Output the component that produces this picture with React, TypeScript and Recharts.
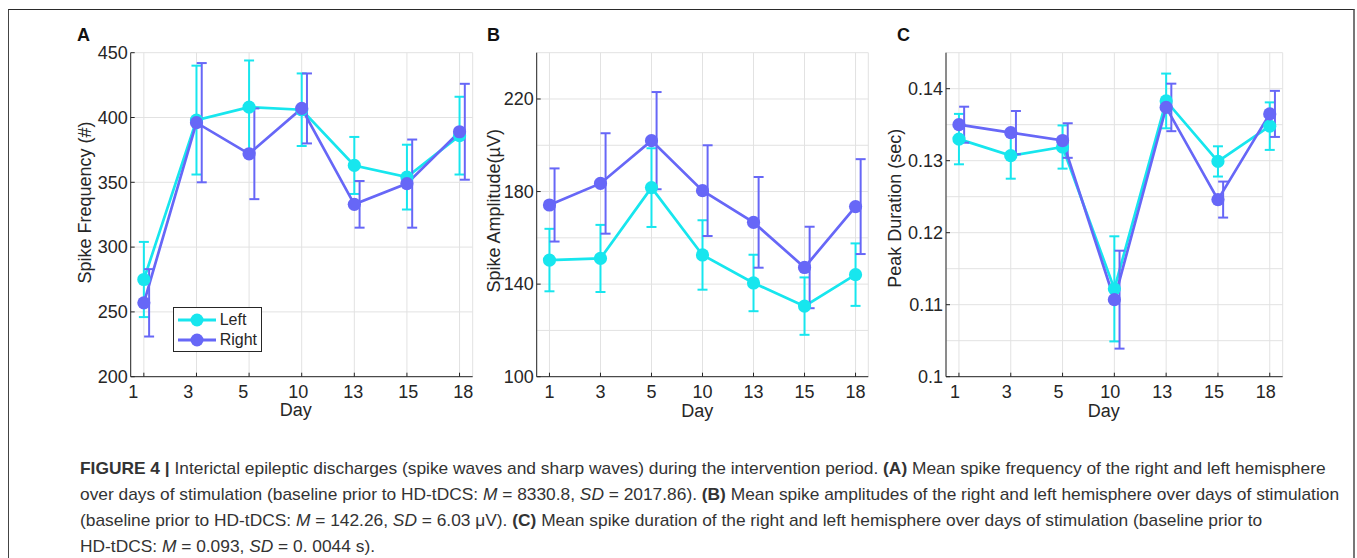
import {
  ComposedChart,
  Line,
  Scatter,
  XAxis,
  YAxis,
  CartesianGrid,
  ErrorBar,
  Legend,
  Label,
} from "recharts";

// days of stimulation (x categories)
const days = ["1", "3", "5", "10", "13", "15", "18"];
const dayPos = [1, 2, 3, 4, 5, 6, 7];

// A: spike frequency (#)
const freqLeft = [275, 398, 408, 406, 363, 354, 386];
const freqLeftErr = [29, 42, 36, 28, 22, 25, 30];
const freqRight = [257, 396, 372, 407, 333, 349, 389];
const freqRightErr = [26, 46, 35, 27, 18, 34, 37];
const freqTicks = [200, 250, 300, 350, 400, 450];
const freqTickLabels = [200, 250, 300, 350, 400, 450];

// B: spike amplitude (uV)
const ampLeft = [150.4, 151.1, 181.7, 152.6, 140.5, 130.5, 144.1];
const ampLeftErr = [13.5, 14.5, 17, 15, 12.2, 12.4, 13.5];
const ampRight = [174.2, 183.5, 202, 180.4, 166.7, 147.2, 173.5];
const ampRightErr = [15.8, 21.7, 21, 19.6, 19.6, 17.6, 20.5];
const ampTicks = [100, 120, 140, 160, 180, 200, 220, 240];
const ampTickLabels = [100, 140, 180, 220];

// C: peak duration (sec)
const durLeft = [0.133, 0.1307, 0.1319, 0.1122, 0.1383, 0.1299, 0.1348];
const durLeftErr = [0.0035, 0.0032, 0.003, 0.0073, 0.0038, 0.0021, 0.0033];
const durRight = [0.135, 0.1339, 0.1328, 0.1107, 0.1374, 0.1246, 0.1365];
const durRightErr = [0.0025, 0.003, 0.0024, 0.0068, 0.0033, 0.0025, 0.0032];
const durTicks = [0.1, 0.105, 0.11, 0.115, 0.12, 0.125, 0.13, 0.135, 0.14, 0.145];
const durTickLabels = [0.1, 0.11, 0.12, 0.13, 0.14];

const CYAN = "#17e6ee";
const PURPLE = "#6767f7";
const AXIS = "#262626";
const GRID = "#e2e2e2";
const FONT = '"Liberation Sans", Arial, Helvetica, sans-serif';
const BAR_SHIFT = 0.1; // right-hemisphere error bars are drawn slightly to the right

function rows(l: number[], le: number[], r: number[], re: number[]) {
  return dayPos.map((x, i) => ({ x, left: l[i], leftErr: le[i], right: r[i], rightErr: re[i] }));
}
function shiftedRows(r: number[], re: number[]) {
  return dayPos.map((x, i) => ({ x: x + BAR_SHIFT, right: r[i], rightErr: re[i] }));
}

function DayTick(props: any) {
  const { x, y, payload, shift } = props;
  const i = Math.round(payload.value) - 1;
  return (
    <g>
      <line x1={x} y1={y} x2={x} y2={y - 4} stroke={AXIS} />
      <text x={x + shift(i)} y={y + 21} textAnchor="middle" fontSize={18} fill={AXIS} fontFamily={FONT}>
        {days[i]}
      </text>
    </g>
  );
}

function ValueTick(props: any) {
  const { x, y, payload, labels } = props;
  const v = payload.value;
  if (!labels.some((l: number) => Math.abs(l - v) < 1e-9)) return <g />;
  return (
    <g>
      <line x1={x + 3} y1={y} x2={x + 7} y2={y} stroke={AXIS} />
      <text x={x} y={y} dy="0.35em" textAnchor="end" fontSize={18} fill={AXIS} fontFamily={FONT}>
        {String(v)}
      </text>
    </g>
  );
}

function LegendBox({ payload }: any) {
  const items = (payload || []).filter((p: any) => p.type !== "none");
  return (
    <div
      style={{
        border: `1.5px solid ${AXIS}`,
        background: "#fff",
        padding: "1.5px 4px 1px 3px",
        fontFamily: FONT,
        fontSize: 16,
        color: AXIS,
        lineHeight: "20px",
      }}
    >
      {items.map((item: any) => (
        <div key={item.value} style={{ display: "flex", alignItems: "center", height: 20 }}>
          <svg width={40} height={16}>
            <line x1={1} y1={8} x2={39} y2={8} stroke={item.color} strokeWidth={3} />
            <circle cx={20} cy={8} r={6.5} fill={item.color} />
          </svg>
          <span style={{ marginLeft: 3 }}>{item.value}</span>
        </div>
      ))}
    </div>
  );
}

type PanelProps = {
  x0: number;
  width: number;
  yWidth: number;
  marginRight: number;
  letter: string;
  yLabel: string;
  yLabelDx: number;
  yLabelDy: number;
  dayDx: number;
  dayDy: number;
  domain: [number, number];
  ticks: number[];
  tickLabels: number[];
  shift: (i: number) => number;
  l: number[];
  le: number[];
  r: number[];
  re: number[];
  legend?: boolean;
};

function Panel(p: PanelProps) {
  const data = rows(p.l, p.le, p.r, p.re);
  const shifted = shiftedRows(p.r, p.re);
  return (
    <>
      <div
        style={{
          position: "absolute",
          left: p.x0 + 17,
          top: 25.6,
          fontFamily: FONT,
          fontWeight: "bold",
          fontSize: 18,
          lineHeight: "18px",
          color: "#111",
        }}
      >
        {p.letter}
      </div>
      <div style={{ position: "absolute", left: p.x0, top: 20 }}>
        <ComposedChart
          width={p.width}
          height={410}
          data={data}
          margin={{ top: 32.7, right: p.marginRight, bottom: 0, left: 0 }}
        >
          <CartesianGrid stroke={GRID} strokeWidth={1} />
          <XAxis
            dataKey="x"
            type="number"
            domain={[0.75, 7.25]}
            ticks={dayPos}
            allowDataOverflow
            height={53.3}
            stroke={AXIS}
            tickSize={0}
            tickMargin={0}
            tickLine={false}
            tick={(t: any) => <DayTick {...t} shift={p.shift} />}
          >
            <Label
              value="Day"
              position="center"
              dx={p.dayDx}
              dy={p.dayDy}
              style={{ fontSize: 18, fill: AXIS, fontFamily: FONT }}
            />
          </XAxis>
          <YAxis
            type="number"
            domain={p.domain}
            ticks={p.ticks}
            allowDataOverflow
            width={p.yWidth}
            stroke={AXIS}
            tickSize={0}
            tickMargin={3}
            tickLine={false}
            tick={(t: any) => <ValueTick {...t} labels={p.tickLabels} />}
          >
            <Label
              value={p.yLabel}
              angle={-90}
              position="center"
              dx={p.yLabelDx}
              dy={p.yLabelDy}
              style={{ fontSize: 18, fill: AXIS, fontFamily: FONT, textAnchor: "middle" }}
            />
          </YAxis>
          {p.legend && (
            <Legend
              layout="vertical"
              align="center"
              verticalAlign="middle"
              wrapperStyle={{ left: 112.7, top: 287.3, width: "auto" }}
              content={(props: any) => <LegendBox payload={props.payload} />}
            />
          )}
          <Line
            name="Left"
            dataKey="left"
            type="linear"
            stroke={CYAN}
            strokeWidth={2.7}
            dot={{ r: 6.6, fill: CYAN, stroke: CYAN, strokeWidth: 0 }}
            activeDot={false}
            isAnimationActive={false}
          >
            <ErrorBar dataKey="leftErr" direction="y" width={5} stroke={CYAN} strokeWidth={2} />
          </Line>
          <Line
            name="Right"
            dataKey="right"
            type="linear"
            stroke={PURPLE}
            strokeWidth={2.7}
            dot={{ r: 6.6, fill: PURPLE, stroke: PURPLE, strokeWidth: 0 }}
            activeDot={false}
            isAnimationActive={false}
          />
          <Scatter
            name="Right error"
            data={shifted}
            dataKey="right"
            legendType="none"
            fill="none"
            shape={() => <g />}
            isAnimationActive={false}
          >
            <ErrorBar dataKey="rightErr" direction="y" width={5} stroke={PURPLE} strokeWidth={2} />
          </Scatter>
        </ComposedChart>
      </div>
    </>
  );
}

export default function App() {
  return (
    <div
      style={{
        position: "absolute",
        left: 0,
        top: 0,
        width: 1357,
        height: 558,
        overflow: "hidden",
        background: "#fff",
      }}
    >
      <div
        style={{
          position: "absolute",
          left: 8,
          top: 9,
          width: 1344,
          height: 600,
          borderTop: "1.5px solid #2a2a2a",
          borderLeft: "1.5px solid #444",
          borderRight: "2px solid #777",
        }}
      />
      <Panel
        x0={60}
        width={440}
        yWidth={70.7}
        marginRight={27.3}
        letter="A"
        yLabel="Spike Frequency (#)"
        yLabelDx={-10.4}
        yLabelDy={-12.2}
        dayDx={-6}
        dayDy={6.5}
        domain={[200, 450]}
        ticks={freqTicks}
        tickLabels={freqTickLabels}
        shift={(i) => -10.6 + 2.4 * i}
        l={freqLeft}
        le={freqLeftErr}
        r={freqRight}
        re={freqRightErr}
        legend
      />
      <Panel
        x0={470}
        width={420}
        yWidth={66.7}
        marginRight={21.7}
        letter="B"
        yLabel="Spike Amplitude(µV)"
        yLabelDx={-10}
        yLabelDy={-3.9}
        dayDx={-5.2}
        dayDy={7}
        domain={[100, 240]}
        ticks={ampTicks}
        tickLabels={ampTickLabels}
        shift={() => 0}
        l={ampLeft}
        le={ampLeftErr}
        r={ampRight}
        re={ampRightErr}
      />
      <Panel
        x0={880}
        width={420}
        yWidth={66}
        marginRight={17.3}
        letter="C"
        yLabel="Peak Duration (sec)"
        yLabelDx={-18}
        yLabelDy={-6.4}
        dayDx={-10.6}
        dayDy={7}
        domain={[0.1, 0.145]}
        ticks={durTicks}
        tickLabels={durTickLabels}
        shift={() => -4}
        l={durLeft}
        le={durLeftErr}
        r={durRight}
        re={durRightErr}
      />
      <div
        style={{
          position: "absolute",
          left: 80,
          top: 455,
          fontFamily: FONT,
          fontSize: 17.35,
          lineHeight: "26px",
          color: "#333",
          whiteSpace: "nowrap",
        }}
      >
        <div>
          <b>FIGURE 4 |</b> Interictal epileptic discharges (spike waves and sharp waves) during the intervention
          period. <b>(A)</b> Mean spike frequency of the right and left hemisphere
        </div>
        <div>
          over days of stimulation (baseline prior to HD-tDCS: <i>M</i> = 8330.8, <i>SD</i> = 2017.86).{" "}
          <b>(B)</b> Mean spike amplitudes of the right and left hemisphere over days of stimulation
        </div>
        <div>
          (baseline prior to HD-tDCS: <i>M</i> = 142.26, <i>SD</i> = 6.03 μV). <b>(C)</b> Mean spike duration of
          the right and left hemisphere over days of stimulation (baseline prior to
        </div>
        <div>
          HD-tDCS: <i>M</i> = 0.093, <i>SD</i> = 0. 0044 s).
        </div>
      </div>
    </div>
  );
}
